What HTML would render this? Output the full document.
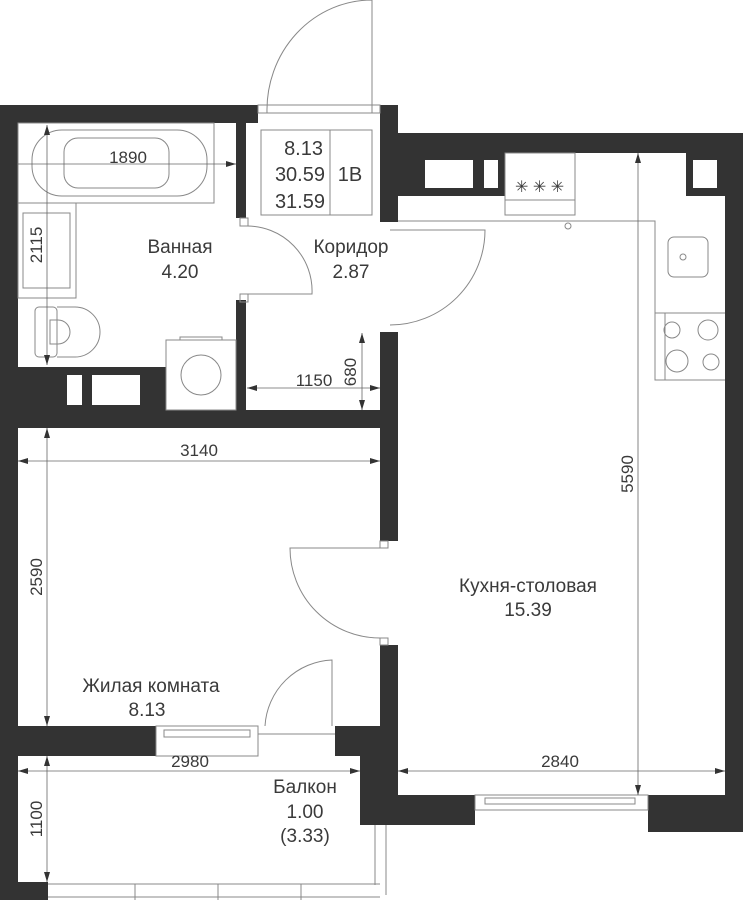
<!DOCTYPE html>
<html><head><meta charset="utf-8"><style>
html,body{margin:0;padding:0;background:#fff;}
svg{display:block;}
text{font-family:"Liberation Sans",sans-serif;fill:#3a3a3a;}
</style></head><body>
<svg width="743" height="900" viewBox="0 0 743 900" xmlns="http://www.w3.org/2000/svg">
<defs>
<marker id="a" viewBox="0 0 10 6" refX="10" refY="3" markerWidth="10" markerHeight="6" orient="auto-start-reverse" markerUnits="userSpaceOnUse"><path d="M0,0L10,3L0,6z" fill="#333"/></marker>
</defs>
<g fill="#333">
<rect x="0" y="105" width="258" height="18"/>
<rect x="0" y="105" width="18" height="795"/>
<rect x="0" y="882" width="48" height="18"/>
<rect x="380" y="105" width="18" height="117"/>
<rect x="380" y="133" width="363" height="20"/>
<rect x="398" y="153" width="107" height="43"/>
<rect x="686" y="153" width="39" height="43"/>
<rect x="725" y="133" width="18" height="699"/>
<rect x="236" y="123" width="10" height="95"/>
<rect x="236" y="300" width="10" height="110"/>
<rect x="18" y="367" width="148" height="43"/>
<rect x="0" y="410" width="398" height="18"/>
<rect x="380" y="332" width="18" height="209"/>
<rect x="380" y="645" width="18" height="150"/>
<rect x="0" y="726" width="156" height="30"/>
<rect x="335" y="726" width="63" height="30"/>
<rect x="360" y="756" width="38" height="69"/>
<rect x="398" y="795" width="77" height="30"/>
<rect x="648" y="795" width="95" height="37"/>
</g>
<g fill="#fff">
<rect x="425" y="160" width="48" height="28"/>
<rect x="484" y="160" width="14" height="28"/>
<rect x="693" y="160" width="24" height="28"/>
<rect x="67" y="375" width="15" height="30"/>
<rect x="92" y="375" width="48" height="30"/>
</g>
<g fill="none" stroke="#888" stroke-width="1">
<path d="M372,0 L372,113 M372,0 A105,110 0 0 0 267,113"/>
<rect x="258" y="105" width="122" height="8"/>
<rect x="261" y="130" width="111" height="85"/>
<line x1="330" y1="130" x2="330" y2="215"/>
<path d="M246,226 A65,65 0 0 1 312,294 L246,294"/>
<rect x="240" y="218" width="8" height="8"/><rect x="240" y="294" width="8" height="8"/>
<path d="M390,230 L485,230 A95,95 0 0 1 390,325"/>
<path d="M380,548 L290,548 A90,90 0 0 0 380,638"/>
<rect x="380" y="541" width="8" height="7"/><rect x="380" y="638" width="8" height="7"/>
<rect x="18" y="123" width="196" height="80"/>
<rect x="32" y="130" width="175" height="66" rx="30"/>
<rect x="64" y="138" width="105" height="50" rx="14"/>
<rect x="18" y="203" width="58" height="95"/>
<rect x="23" y="213" width="47" height="75"/>
<rect x="35" y="307" width="22" height="50" rx="4"/>
<path d="M57,307 L75,307 A25,25 0 0 1 75,357 L57,357"/>
<path d="M50,320 L58,320 A12,12 0 0 1 58,344 L50,344 Z"/>
<rect x="166" y="340" width="70" height="70"/>
<circle cx="201" cy="375" r="20"/>
<rect x="180" y="337" width="42" height="3"/>
<rect x="505" y="153" width="70" height="62"/>
<line x1="505" y1="200" x2="575" y2="200"/>
<circle cx="568" cy="226" r="3"/>
<path d="M398,221 L655,221 L655,380 L725,380"/>
<line x1="655" y1="313" x2="725" y2="313"/>
<line x1="665" y1="313" x2="665" y2="380"/>
<rect x="668" y="237" width="40" height="40" rx="6"/>
<circle cx="683" cy="257" r="3"/>
<circle cx="672" cy="330" r="8"/><circle cx="708" cy="330" r="10"/>
<circle cx="677" cy="361" r="11"/><circle cx="711" cy="362" r="8"/>
<rect x="156" y="726" width="102" height="30"/>
<rect x="164" y="730" width="86" height="7"/>
<path d="M265,726 A70,70 0 0 1 332,660 L332,726"/>
<line x1="258" y1="734" x2="335" y2="734"/>
<rect x="475" y="795" width="173" height="15"/>
<rect x="485" y="798" width="150" height="6"/>
<line x1="48" y1="884" x2="380" y2="884"/>
<line x1="48" y1="897" x2="380" y2="897"/>
<line x1="135" y1="884" x2="135" y2="900"/><line x1="218" y1="884" x2="218" y2="900"/><line x1="301" y1="884" x2="301" y2="900"/>
<line x1="375" y1="825" x2="375" y2="885"/><line x1="386" y1="825" x2="386" y2="895"/>
</g>
<text x="515" y="192" font-size="16" fill="#666">✳ ✳ ✳</text>
<g stroke="#666" stroke-width="0.8" fill="none">
<line x1="18" y1="164" x2="236" y2="164" marker-end="url(#a)"/>
<line x1="47" y1="125" x2="47" y2="365" marker-start="url(#a)" marker-end="url(#a)"/>
<line x1="247" y1="388" x2="380" y2="388" marker-start="url(#a)" marker-end="url(#a)"/>
<line x1="362" y1="333" x2="362" y2="410" marker-start="url(#a)" marker-end="url(#a)"/>
<line x1="18" y1="461" x2="380" y2="461" marker-start="url(#a)" marker-end="url(#a)"/>
<line x1="47" y1="428" x2="47" y2="726" marker-start="url(#a)" marker-end="url(#a)"/>
<line x1="18" y1="771" x2="360" y2="771" marker-start="url(#a)" marker-end="url(#a)"/>
<line x1="47" y1="756" x2="47" y2="882" marker-start="url(#a)" marker-end="url(#a)"/>
<line x1="398" y1="771" x2="725" y2="771" marker-start="url(#a)" marker-end="url(#a)"/>
<line x1="638" y1="153" x2="638" y2="795" marker-start="url(#a)" marker-end="url(#a)"/>
</g>
<g font-size="17" text-anchor="middle">
<text x="128" y="163">1890</text>
<text x="42" y="245" transform="rotate(-90 42 245)">2115</text>
<text x="314" y="386">1150</text>
<text x="356" y="372" transform="rotate(-90 356 372)">680</text>
<text x="199" y="456">3140</text>
<text x="42" y="577" transform="rotate(-90 42 577)">2590</text>
<text x="190" y="767">2980</text>
<text x="42" y="819" transform="rotate(-90 42 819)">1100</text>
<text x="560" y="767">2840</text>
<text x="633" y="474" transform="rotate(-90 633 474)">5590</text>
</g>
<g font-size="19" text-anchor="middle">
<text x="180" y="253">Ванная</text><text x="180" y="278">4.20</text>
<text x="351" y="253">Коридор</text><text x="351" y="278">2.87</text>
<text x="528" y="592">Кухня-столовая</text><text x="528" y="616">15.39</text>
<text x="151" y="692">Жилая комната</text><text x="147" y="716">8.13</text>
<text x="305" y="793">Балкон</text><text x="305" y="818">1.00</text><text x="305" y="842">(3.33)</text>
</g>
<g font-size="20" text-anchor="end">
<text x="323" y="155">8.13</text><text x="325" y="181">30.59</text><text x="325" y="208">31.59</text>
</g>
<text x="350" y="181" font-size="20" text-anchor="middle">1В</text>
</svg>
</body></html>
